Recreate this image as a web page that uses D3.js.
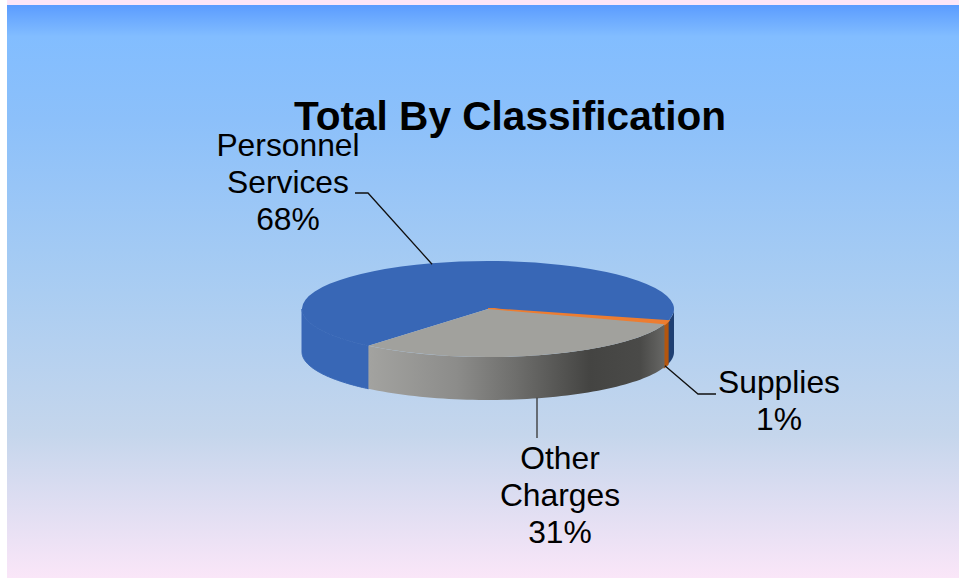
<!DOCTYPE html>
<html><head><meta charset="utf-8">
<script src="https://cdn.jsdelivr.net/npm/d3@7"></script>
<style>html,body{margin:0;padding:0;background:#fff}svg{display:block}text{font-family:"Liberation Sans",Arial,sans-serif;fill:#000}</style>
</head><body><svg id="c" width="959" height="578"></svg>
<script>
const categories = ["Personnel Services", "Supplies", "Other Charges"];
const values = [68, 1, 31];
const titleText = "Total By Classification";
const topColors = ["#3867b6", "#ed7d31", "#a1a19d"];
const labelLines = [["Personnel", "Services", "68%"], ["Supplies", "1%"], ["Other", "Charges", "31%"]];

const W = 959, H = 578;
const svg = d3.select("#c");
const defs = svg.append("defs");
const bg = defs.append("linearGradient").attr("id", "bg").attr("x1", 0).attr("x2", 0).attr("y1", 0).attr("y2", 1);
[[0, "#5b9cff"], [0.055, "#82bdff"], [0.2, "#8cc0fa"], [0.5, "#aacdf2"], [0.75, "#c5d6ec"], [1, "#fae6f8"]]
  .forEach(d => bg.append("stop").attr("offset", d[0]).attr("stop-color", d[1]));
const sideGray = defs.append("linearGradient").attr("id", "sideGray").attr("gradientUnits", "userSpaceOnUse")
  .attr("x1", 368).attr("x2", 664).attr("y1", 0).attr("y2", 0);
[[0, "#a3a3a0"], [0.3, "#8c8c8a"], [0.5, "#6e6e6c"], [0.75, "#444442"], [0.92, "#4a4a48"], [1, "#666664"]]
  .forEach(d => sideGray.append("stop").attr("offset", d[0]).attr("stop-color", d[1]));

svg.append("rect").attr("width", W).attr("height", H).attr("fill", "#fff");
svg.append("rect").attr("x", 7).attr("y", 0).attr("width", W - 7).attr("height", 5).attr("fill", "#fce6f8");
svg.append("rect").attr("x", 7).attr("y", 5).attr("width", W - 7).attr("height", H - 5).attr("fill", "url(#bg)");

const cx = 488, cy = 309, rx = 186, ry = 48, depth = 43;
const deg = Math.PI / 180;
const startA = 220 * deg;
const pie = d3.pie().sort(null).startAngle(startA).endAngle(startA + 2 * Math.PI);
const arcs = pie(values);
const px = a => cx + rx * Math.sin(a);
const py = a => cy - ry * Math.cos(a);

const tau = 2 * Math.PI;
function wall(a0, a1) {
  const p = d3.path();
  const n = 60;
  const as = d3.range(n + 1).map(i => a0 + (a1 - a0) * i / n);
  as.forEach((a, i) => i ? p.lineTo(px(a), py(a)) : p.moveTo(px(a), py(a)));
  as.slice().reverse().forEach(a => p.lineTo(px(a), py(a) + depth));
  p.closePath();
  return p.toString();
}
const east = 90 * deg, west = 270 * deg;
const g = svg.append("g");
const pA = arcs[0], sA = arcs[1], oA = arcs[2];
g.append("path").attr("d", wall(pA.startAngle, west)).attr("fill", "#3867b6")
  .attr("stroke", "#3867b6").attr("stroke-width", 1);
g.append("path").attr("d", wall(east, pA.endAngle - tau)).attr("fill", "#1f3f72");
g.append("path").attr("d", wall(sA.startAngle - tau, sA.endAngle - tau)).attr("fill", "#b4560f")
  .attr("stroke", "#b4560f").attr("stroke-width", 1.6);
g.append("path").attr("d", wall(oA.startAngle - tau, oA.endAngle - tau)).attr("fill", "url(#sideGray)");

const arc = d3.arc().innerRadius(0).outerRadius(rx);
const faces = svg.append("g").attr("transform", `translate(${cx},${cy}) scale(1,${ry / rx})`);
faces.selectAll("path").data(arcs).join("path").attr("d", arc).attr("fill", (d, i) => topColors[i])
  .attr("stroke", (d, i) => i === 1 ? topColors[1] : "none")
  .attr("stroke-width", 2.2).attr("vector-effect", "non-scaling-stroke");

const lineGen = d3.line();
const leaders = [
  [[355, 193], [368, 193], [px(-17.5 * deg), py(-17.5 * deg) + 1]],
  [[716, 394], [698, 394], [px(108 * deg), py(108 * deg) + depth - 1]],
  [[537, 438], [537, py(162 * deg) + depth]]
];
svg.append("g").selectAll("path").data(leaders).join("path").attr("d", d => lineGen(d))
  .attr("fill", "none").attr("stroke", (d, i) => i === 2 ? "#333" : "#111").attr("stroke-width", 1.3);

svg.append("text").attr("x", 510).attr("y", 130).attr("text-anchor", "middle")
  .attr("font-size", 40.6).attr("font-weight", 700).text(titleText);

const labelPos = [[288, 156], [779, 393], [560, 469]];
labelLines.forEach((lines, i) => {
  const t = svg.append("text").attr("text-anchor", "middle").attr("font-size", 31.8);
  lines.forEach((s, j) => t.append("tspan").attr("x", labelPos[i][0]).attr("y", labelPos[i][1] + j * 37).text(s));
});
</script></body></html>
